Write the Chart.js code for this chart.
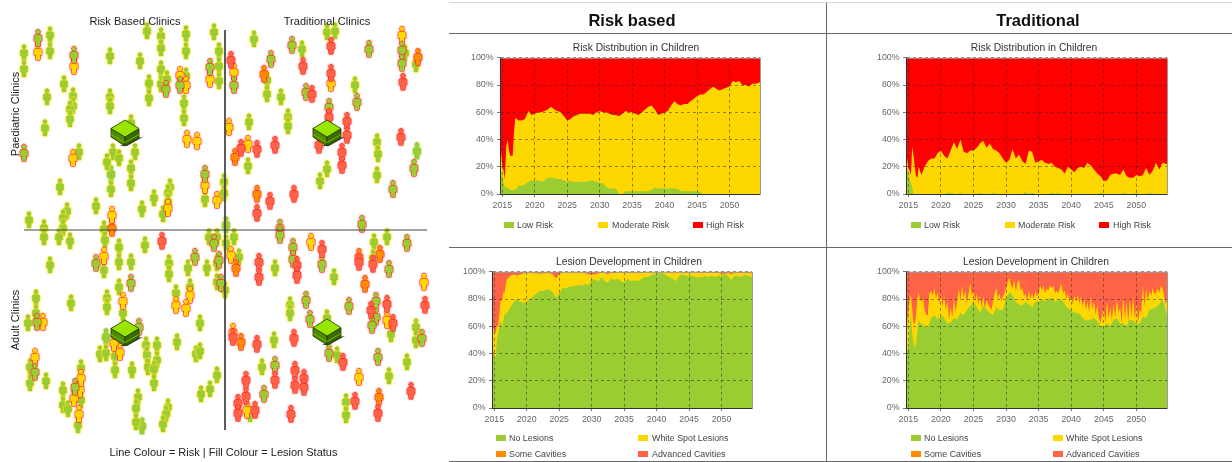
<!DOCTYPE html>
<html>
<head>
<meta charset="utf-8">
<title>Risk based vs traditional clinics</title>
<script src="https://cdn.jsdelivr.net/npm/chart.js@4/dist/chart.umd.min.js"></script>
<style>
  html, body { margin: 0; padding: 0; background: #fff; }
  #page { position: relative; width: 1232px; height: 462px; overflow: hidden; filter: blur(0.45px);
          font-family: "Liberation Sans", Arial, sans-serif; }
  #page canvas { position: absolute; }
  .txt { position: absolute; white-space: nowrap; transform: translate(-50%, -50%); color: #222; font-size: 11px; }
  .rot { transform: translate(-50%, -50%) rotate(-90deg); }
  .head { font-size: 16.5px; font-weight: bold; color: #111; }
  .sub { font-size: 10.3px; color: #333; }
  .leg { position: absolute; font-size: 8.9px; color: #444; white-space: nowrap; transform: translateY(-50%); }
  .sw { position: absolute; height: 6px; width: 10px; transform: translateY(-50%); }
  .rule { position: absolute; background: #666; }
</style>
</head>
<body>
<div id="page"></div>
<script>
/* ================= DATA ================= */
// sample years shared by the area charts
const years = [2014.8, 2015, 2015.2, 2015.4, 2015.6, 2015.8, 2016, 2016.2, 2016.4, 2016.6, 2016.8, 2017,
  2017.5, 2018, 2018.5, 2019, 2019.5, 2020,
  2020.5, 2021, 2021.5, 2022, 2022.5, 2023, 2023.5, 2024, 2024.5, 2025,
  2025.5, 2026, 2026.5, 2027, 2027.5, 2028, 2028.5, 2029, 2029.5, 2030,
  2030.5, 2031, 2031.5, 2032, 2032.5, 2033, 2033.5, 2034, 2034.5, 2035,
  2035.5, 2036, 2036.5, 2037, 2037.5, 2038, 2038.5, 2039, 2039.5, 2040,
  2040.5, 2041, 2041.5, 2042, 2042.5, 2043, 2043.5, 2044, 2044.5, 2045,
  2045.5, 2046, 2046.5, 2047, 2047.5, 2048, 2048.5, 2049, 2049.5, 2050,
  2050.5, 2051, 2051.5, 2052, 2052.5, 2053, 2053.5, 2054, 2054.7];
// the traditional white spot edge is spiky, so it is read every quarter year
const spikyYears = [2014.8, 2015, 2015.2, 2015.4, 2015.6, 2015.8, 2016, 2016.2, 2016.4, 2016.6, 2016.8, 2017,
  2017.25, 2017.5, 2017.75, 2018, 2018.25, 2018.5, 2018.75, 2019, 2019.25, 2019.5, 2019.75, 2020,
  2020.25, 2020.5, 2020.75, 2021, 2021.25, 2021.5, 2021.75, 2022, 2022.25, 2022.5, 2022.75, 2023,
  2023.25, 2023.5, 2023.75, 2024, 2024.25, 2024.5, 2024.75, 2025, 2025.25, 2025.5, 2025.75, 2026,
  2026.25, 2026.5, 2026.75, 2027, 2027.25, 2027.5, 2027.75, 2028, 2028.25, 2028.5, 2028.75, 2029,
  2029.25, 2029.5, 2029.75, 2030, 2030.25, 2030.5, 2030.75, 2031, 2031.25, 2031.5, 2031.75, 2032,
  2032.25, 2032.5, 2032.75, 2033, 2033.25, 2033.5, 2033.75, 2034, 2034.25, 2034.5, 2034.75, 2035,
  2035.25, 2035.5, 2035.75, 2036, 2036.25, 2036.5, 2036.75, 2037, 2037.25, 2037.5, 2037.75, 2038,
  2038.25, 2038.5, 2038.75, 2039, 2039.25, 2039.5, 2039.75, 2040, 2040.25, 2040.5, 2040.75, 2041,
  2041.25, 2041.5, 2041.75, 2042, 2042.25, 2042.5, 2042.75, 2043, 2043.25, 2043.5, 2043.75, 2044,
  2044.25, 2044.5, 2044.75, 2045, 2045.25, 2045.5, 2045.75, 2046, 2046.25, 2046.5, 2046.75, 2047,
  2047.25, 2047.5, 2047.75, 2048, 2048.25, 2048.5, 2048.75, 2049, 2049.25, 2049.5, 2049.75, 2050,
  2050.25, 2050.5, 2050.75, 2051, 2051.25, 2051.5, 2051.75, 2052, 2052.25, 2052.5, 2052.75, 2053,
  2053.25, 2053.5, 2053.75, 2054, 2054.25, 2054.5, 2054.7];
const yearTicks = [2015, 2020, 2025, 2030, 2035, 2040, 2045, 2050];
const percentTicks = [0, 20, 40, 60, 80, 100];
const allHundred = years.map(() => 100);

// upper edge of each band, in percent
const rbLowTop = [18, 13, 8, 5, 5, 4.5, 4, 3, 3, 3, 3, 3,
  6, 6, 7, 9, 10, 10,
  10, 9, 10, 12, 12, 12, 11, 11, 10, 9,
  10, 9, 9, 9, 9, 9, 10, 10, 9, 8,
  8, 5, 4, 4, 4, 0, 0, 2, 2, 2,
  2, 2, 2, 2, 2, 3, 5, 4, 4, 4,
  4, 4, 4, 4, 2, 2, 2, 2, 2, 2,
  1.5, 0, 0, 0, 0, 0, 0, 0, 0, 0,
  0, 0, 0, 0, 0, 0, 0, 0, 0];
const rbModerateTop = [32, 21, 17, 11, 34, 40, 33, 28, 28, 28, 45, 56,
  54, 54, 55, 61, 58, 59,
  60, 60, 61, 62, 64, 62, 61, 60, 57, 54,
  55, 57, 58, 59, 59, 59, 59, 58, 60, 61,
  60, 60, 59, 58, 58, 57, 59, 61, 60, 60,
  59, 58, 60, 62, 64, 65, 62, 58, 59, 60,
  61, 65, 68, 66, 65, 66, 66, 68, 70, 72,
  73, 73, 75, 77, 79, 77, 76, 77, 78, 79,
  83, 82, 83, 80, 80, 79, 81, 81, 82];
const trLowTop = [19, 15, 11, 8, 5, 0, 0, 0, 0, 0, 0, 0,
  0, 0, 0, 0, 0, 0,
  0, 1, 1, 0, 0, 1, 0, 0, 0, 0,
  0, 1, 0, 0, 0, 1, 0, 0, 0, 0,
  0, 0, 0, 0, 0, 1.5, 0, 1, 0, 0,
  0, 0, 0, 1, 0, 1, 0, 0, 0, 0,
  0, 0, 0, 0, 0, 0, 0, 0, 1, 0,
  0, 0, 0, 0, 0, 1, 0, 0, 0, 1,
  0, 0, 0, 1, 0, 0, 0, 0, 0];
const trModerateTop = [26, 20, 17, 14, 35, 28, 20, 13, 12, 20, 17, 14,
  20, 24, 26, 26, 30, 32,
  28, 26, 32, 38, 33, 40, 31, 30, 32, 32,
  34, 37, 39, 34, 37, 33, 32, 30, 26, 23,
  25, 33, 26, 29, 24, 22, 32, 31, 23, 24,
  25, 23, 22, 23, 20, 19, 18, 15, 20, 18,
  16, 19, 20, 19, 23, 21, 18, 15, 13, 9.5,
  10, 14, 15, 15, 14, 18, 13, 12, 12, 14,
  13, 14, 19, 14, 17, 23, 18, 23, 22];

const rbNoLesionTop = [45, 38, 36, 50, 55, 62, 64, 58, 64, 70, 68, 70,
  74, 78, 80, 78, 77, 78,
  80, 82, 84, 86, 86, 87, 87, 85, 81, 84,
  88, 88, 89, 89, 90, 90, 90, 91, 90, 95,
  94, 93, 96, 93, 92, 95, 94, 95, 93, 92,
  95, 93, 94, 93, 94, 96, 96, 97, 98, 99,
  99, 99, 97, 96, 95, 93, 97, 98, 97, 97,
  97, 96, 96, 96, 97, 96, 97, 96, 97, 97,
  98, 97, 94, 97, 97, 96, 98, 97, 96];
const rbWhiteSpotTop = [60, 55, 55, 60, 60, 70, 80, 78, 85, 84, 92, 95,
  97, 98, 97, 98, 99, 99,
  99.5, 99, 99, 98.5, 99, 99, 99, 98, 95, 98,
  99.5, 99.5, 99.5, 99.5, 99.5, 99.5, 99.5, 99, 98, 98,
  98, 99, 99.5, 99.5, 98, 99.5, 99, 99.5, 99.5, 99.5,
  99.5, 99, 99.5, 99.5, 99, 99.5, 99.5, 99.5, 100, 100,
  100, 100, 100, 99.5, 100, 99.5, 100, 99.5, 99.5, 99.5,
  99.5, 99.5, 99.5, 99, 99.5, 99, 99.5, 99, 99.5, 99,
  98, 99.5, 98, 99.5, 99.5, 99, 99.5, 99, 99];
const trNoLesionTop = [42, 44, 60, 68, 55, 48, 44, 48, 56, 65, 62, 62,
  60, 59, 66, 68, 65, 68,
  66, 62, 63, 66, 65, 70, 68, 72, 75, 78,
  74, 70, 75, 72, 70, 68, 74, 72, 72, 80,
  85, 83, 78, 76, 75, 78, 76, 74, 78, 78,
  80, 78, 80, 81, 78, 79, 80, 76, 73, 72,
  70, 70, 68, 65, 64, 65, 66, 64, 60, 60,
  62, 60, 65, 66, 62, 62, 60, 65, 64, 62,
  62, 67, 66, 72, 73, 74, 76, 80, 68];
const trWhiteSpotTop = [60, 70, 80, 83, 72, 62, 62, 68, 80, 85, 80, 78,
  80, 72, 68, 68, 84, 86, 82, 88, 80, 85, 76, 84,
  74, 82, 72, 78, 64, 74, 66, 80, 70, 78, 88, 78,
  90, 80, 86, 76, 84, 92, 82, 86, 78, 84, 76, 82,
  74, 82, 72, 80, 76, 74, 72, 78, 84, 88, 80, 84,
  78, 82, 84, 88, 92, 96, 90, 88, 94, 85, 92, 94,
  86, 88, 82, 84, 78, 86, 80, 84, 80, 86, 82, 84,
  90, 86, 90, 84, 88, 86, 90, 88, 90, 84, 86, 84,
  88, 91, 84, 86, 80, 84, 78, 82, 76, 83, 78, 83,
  76, 82, 74, 80, 72, 78, 70, 82, 72, 78, 68, 76,
  66, 62, 68, 72, 62, 78, 66, 74, 64, 76, 66, 80,
  70, 74, 62, 82, 64, 78, 62, 80, 66, 82, 64, 76,
  62, 72, 70, 90, 74, 88, 78, 86, 82, 88, 84, 84,
  88, 84, 90, 88, 82, 76, 80];
// the some-cavities band is too thin to read apart from white spot
const rbSomeCavitiesTop = rbWhiteSpotTop;
const trSomeCavitiesTop = trWhiteSpotTop;

// people on the clinic map (map units), grouped by outline risk / fill lesion state
const moderateNoLesion = [[50,35],[50,51],[24,53],[24,69],[147,31],[161,36],[161,48],[186,34],[186,51],[214,32],[219,51],[219,66],[219,81],
  [110,56],[140,61],[161,69],[161,84],[167,79],[186,76],[149,83],[149,98],[64,84],[47,97],[73,96],[110,97],[110,106],[73,106],[70,109],[70,119],
  [45,128],[184,103],[184,118],[79,152],[113,152],[119,158],[107,162],[135,152],[131,168],[131,183],[111,189],[60,187],[170,187],[168,193],[154,198],
  [168,202],[142,209],[96,206],[67,211],[63,218],[29,220],[44,228],[63,228],[104,229],[163,214],[205,199],[224,182],[224,193],[131,123],
  [254,39],[327,32],[335,31],[302,49],[267,80],[267,94],[281,97],[249,122],[288,117],[288,126],[248,166],[355,85],[377,142],[378,154],[377,175],
  [327,169],[320,181],[416,64],[405,53],
  [44,237],[59,237],[70,241],[105,240],[119,247],[119,262],[104,270],[131,262],[145,245],[50,265],[169,263],[169,274],[188,268],[207,268],[209,237],
  [217,237],[226,243],[217,263],[217,282],[225,290],[119,287],[107,298],[107,307],[71,303],[36,298],[36,313],[28,323],[123,313],[176,293],[190,287],
  [200,323],[177,342],[196,354],[200,351],[100,354],[106,353],[115,356],[115,370],[132,370],[146,345],[157,345],[147,355],[157,360],[148,367],[154,369],
  [154,383],[217,375],[210,389],[201,394],[81,368],[30,367],[30,383],[46,381],[63,390],[63,405],[68,409],[81,400],[138,397],[136,408],[136,422],[168,407],
  [166,414],[163,424],[78,425],
  [234,237],[374,242],[387,237],[239,257],[275,268],[334,277],[290,305],[290,313],[274,340],[262,367],[337,355],[407,362],[389,376],[346,402],[346,415],
  [250,414],[391,334],[416,340],[327,318],[416,327],[373,258]];
const lowNoLesion = [[111,174],[226,225],[417,151],[142,426],[106,337]];
const highNoLesion = [[38,38],[74,55],[210,67],[166,89],[180,85],[24,153],[205,174],
  [292,45],[271,59],[369,49],[402,50],[402,63],[234,85],[306,92],[329,107],[357,102],[414,168],[393,189],[362,224],[280,228],
  [96,263],[214,243],[195,257],[131,283],[37,322],[35,372],[75,387],[219,260],[139,327],[221,283],
  [280,235],[293,247],[293,259],[322,264],[407,243],[389,269],[306,300],[349,306],[376,301],[376,317],[372,325],[310,319],[422,338],[329,353],[378,357],
  [275,365],[264,394]];
const highWhiteSpot = [[38,52],[74,66],[210,79],[180,75],[186,85],[187,139],[197,141],[73,158],[205,185],[217,200],[112,215],[168,208],
  [402,35],[234,72],[248,144],[229,127],[331,83],
  [104,256],[123,301],[190,295],[176,305],[186,308],[43,322],[35,357],[80,389],[81,378],[79,414],[120,352],[114,343],[74,398],
  [311,242],[231,255],[424,282],[387,320],[359,377],[233,332],[247,410]];
const highSomeCavities = [[112,228],[264,74],[235,157],[257,194],[418,57],[236,268],[380,254],[359,257],[365,284],[241,342],[379,397]];
const highAdvanced = [[231,60],[303,66],[331,46],[331,73],[312,94],[347,121],[347,135],[401,137],[342,152],[342,165],[275,145],[257,149],[241,148],
  [294,194],[270,201],[257,213],[403,82],[329,117],[319,145],[162,241],
  [259,262],[259,277],[297,265],[297,275],[322,249],[359,262],[373,264],[425,305],[387,304],[393,323],[371,310],[294,338],[257,344],[343,362],[295,370],
  [295,385],[304,378],[304,387],[275,380],[246,380],[246,396],[238,403],[238,413],[255,410],[291,414],[355,401],[411,391],[378,413],[233,337]];
const clinics = [[128,134],[330,134],[128,334],[330,333]];
const verticalDivider = [[225,30],[225,430]];
const horizontalDivider = [[24,230],[427,230]];

/* ================= HELPERS ================= */
const GREEN = '#9acd32', GOLD = '#ffd700', ORANGE = '#ff8c00', TOMATO = '#ff6347', RED = '#ff0000';
const page = document.getElementById('page');

function addText(text, x, y, cls) {
  const el = document.createElement('div');
  el.className = cls;
  el.textContent = text;
  el.style.left = x + 'px';
  el.style.top = y + 'px';
  page.appendChild(el);
}
function addRule(x, y, w, h, color) {
  const el = document.createElement('div');
  el.className = 'rule';
  el.style.cssText = `left:${x}px;top:${y}px;width:${w}px;height:${h}px;` + (color ? `background:${color};` : '');
  page.appendChild(el);
}
function addLegend(label, color, swX, textX, y) {
  const sw = document.createElement('div');
  sw.className = 'sw';
  sw.style.cssText = `left:${swX}px;top:${y}px;background:${color};`;
  page.appendChild(sw);
  addText(label, textX, y, 'leg');
}
function newCanvas(x, y, w, h) {
  const c = document.createElement('canvas');
  c.width = w; c.height = h;
  c.style.cssText = `left:${x}px;top:${y}px;width:${w}px;height:${h}px;`;
  page.appendChild(c);
  return c;
}

// little person icon used as point style
function personIcon(line, fill, halo) {
  const c = document.createElement('canvas');
  c.width = 14; c.height = 22;
  const g = c.getContext('2d');
  const path = () => {
    g.beginPath();
    g.arc(7, 4.8, 2.2, 0, Math.PI * 2);
    g.moveTo(4.2, 7.6);
    g.lineTo(9.8, 7.6);
    g.lineTo(10.8, 9);
    g.lineTo(10.8, 14);
    g.lineTo(9.3, 14);
    g.lineTo(8.9, 19);
    g.lineTo(5.1, 19);
    g.lineTo(4.7, 14);
    g.lineTo(3.2, 14);
    g.lineTo(3.2, 9);
    g.closePath();
  };
  g.lineJoin = 'round';
  g.strokeStyle = halo; g.globalAlpha = 0.35; g.lineWidth = 3; path(); g.stroke();
  g.globalAlpha = 1;
  g.strokeStyle = line; g.lineWidth = 1; path(); g.stroke();
  g.fillStyle = fill; path(); g.fill();
  return c;
}

// isometric clinic block used as point style
function clinicIcon() {
  const c = document.createElement('canvas');
  c.width = 36; c.height = 30;
  const g = c.getContext('2d');
  const poly = (pts, fill, stroke) => {
    g.beginPath();
    pts.forEach((p, i) => i ? g.lineTo(p[0], p[1]) : g.moveTo(p[0], p[1]));
    g.closePath();
    g.fillStyle = fill; g.fill();
    if (stroke) { g.strokeStyle = stroke; g.lineWidth = 0.8; g.stroke(); }
  };
  poly([[26,19],[33,18],[17,27],[10,27]], '#4a4a4a');
  poly([[1,9],[15,18],[15,27],[1,18]], '#4f8a00', '#1f3300');
  poly([[15,18],[29,10],[29,19],[15,27]], '#3a6b00', '#1f3300');
  poly([[1,15],[15,23],[29,15],[29,16],[15,24],[1,16]], '#7ab800');
  poly([[15,1],[29,9.5],[15,18],[1,9.5]], '#99e600', '#1f3300');
  return c;
}

const toPoints = list => list.map(p => ({ x: p[0], y: p[1] }));
const agentSet = (list, icon, order) => ({
  data: toPoints(list), pointStyle: icon, pointRadius: 5, showLine: false, order
});
const lineSet = list => ({
  data: toPoints(list), showLine: true, borderColor: '#444', borderWidth: 1, pointRadius: 0, order: 1
});

/* ================= CHARTS ================= */
function drawMap() {
  new Chart(newCanvas(0, 0, 445, 462), {
    type: 'scatter',
    data: {
      datasets: [
        agentSet(clinics, clinicIcon(), 0),
        lineSet(verticalDivider),
        lineSet(horizontalDivider),
        agentSet(highAdvanced, personIcon(RED, TOMATO, '#ff8080'), 2),
        agentSet(highNoLesion, personIcon(RED, GREEN, '#ff8080'), 2),
        agentSet(highWhiteSpot, personIcon(RED, GOLD, '#ff8080'), 3),
        agentSet(highSomeCavities, personIcon(RED, ORANGE, '#ff8080'), 3),
        agentSet(moderateNoLesion, personIcon(GOLD, GREEN, '#ffee66'), 4),
        agentSet(lowNoLesion, personIcon(GREEN, GREEN, '#cce680'), 4)
      ]
    },
    options: {
      responsive: false,
      animation: false,
      layout: { padding: 0, autoPadding: false },
      plugins: { legend: { display: false }, tooltip: { enabled: false } },
      scales: {
        x: { display: false, min: 0, max: 445 },
        y: { display: false, min: 0, max: 462, reverse: true }
      }
    }
  });
}

// dark left/bottom, grey top/right like the source plot frame
const plotFrame = {
  id: 'plotFrame',
  afterDraw(chart) {
    const { ctx, chartArea: a } = chart;
    ctx.save();
    ctx.lineWidth = 1;
    ctx.strokeStyle = '#9a9a9a';
    ctx.beginPath();
    ctx.moveTo(a.left, a.top + 0.5); ctx.lineTo(a.right + 0.5, a.top + 0.5); ctx.lineTo(a.right + 0.5, a.bottom);
    ctx.stroke();
    ctx.strokeStyle = '#333';
    ctx.beginPath();
    ctx.moveTo(a.left - 0.5, a.top); ctx.lineTo(a.left - 0.5, a.bottom + 0.5); ctx.lineTo(a.right + 0.5, a.bottom + 0.5);
    ctx.stroke();
    ctx.restore();
  }
};

function drawArea(plotX, plotY, plotW, plotH, bands) {
  const padL = 40, padR = 6, padT = 8, padB = 22;
  const canvas = newCanvas(plotX - padL, plotY - padT, plotW + padL + padR, plotH + padT + padB);
  new Chart(canvas, {
    type: 'line',
    data: {
      datasets: bands.map((b, i) => ({
        label: b.label,
        data: b.top.map((v, k) => ({ x: (b.xs || years)[k], y: v })),
        backgroundColor: b.color,
        borderWidth: 0,
        pointRadius: 0,
        tension: 0,
        fill: 'origin',
        order: i + 1
      }))
    },
    options: {
      responsive: false,
      animation: false,
      parsing: false,
      layout: { padding: { left: 0, right: padR, top: padT, bottom: 0 } },
      plugins: { legend: { display: false }, tooltip: { enabled: false } },
      scales: {
        x: {
          type: 'linear', min: 2014.8, max: 2054.7,
          afterBuildTicks: s => { s.ticks = yearTicks.map(v => ({ value: v })); },
          afterFit: s => { s.height = padB; },
          border: { display: false, dash: [3, 3] },
          grid: { color: 'rgba(40,40,40,0.5)', z: 1, tickLength: 3, tickColor: '#777', tickBorderDash: [] },
          ticks: { color: '#666', font: { size: 8.8, family: '"Liberation Sans", Arial, sans-serif' }, padding: 3, maxRotation: 0, autoSkip: false, callback: v => String(v) }
        },
        y: {
          min: 0, max: 100,
          afterBuildTicks: s => { s.ticks = percentTicks.map(v => ({ value: v })); },
          afterFit: s => { s.width = padL; },
          border: { display: false, dash: [3, 3] },
          grid: { color: 'rgba(40,40,40,0.5)', z: 1, tickLength: 4, tickColor: '#777', tickBorderDash: [] },
          ticks: { color: '#666', font: { size: 8.8, family: '"Liberation Sans", Arial, sans-serif' }, padding: 3.5, autoSkip: false, callback: v => v + '%' }
        }
      }
    },
    plugins: [plotFrame]
  });
}

/* ================= LAYOUT ================= */
function initPage() {
  drawMap();
  addText('Risk Based Clinics', 135, 21, 'txt');
  addText('Traditional Clinics', 327, 21, 'txt');
  addText('Paediatric Clinics', 15, 114, 'txt rot');
  addText('Adult Clinics', 15, 320, 'txt rot');
  addText('Line Colour = Risk | Fill Colour = Lesion Status', 223.5, 452, 'txt');

  addRule(449, 2, 783, 1, '#d8d8d8');
  addRule(449, 33, 783, 1);
  addRule(449, 247, 783, 1);
  addRule(449, 461, 783, 1);
  addRule(826, 3, 1, 459);
  addText('Risk based', 632, 20, 'txt head');
  addText('Traditional', 1038, 20, 'txt head');

  drawArea(501, 57, 259, 137, [
    { label: 'Low Risk', top: rbLowTop, color: GREEN },
    { label: 'Moderate Risk', top: rbModerateTop, color: GOLD },
    { label: 'High Risk', top: allHundred, color: RED }
  ]);
  drawArea(907, 57, 260, 137, [
    { label: 'Low Risk', top: trLowTop, color: GREEN },
    { label: 'Moderate Risk', top: trModerateTop, color: GOLD },
    { label: 'High Risk', top: allHundred, color: RED }
  ]);
  drawArea(493, 271, 259, 137, [
    { label: 'No Lesions', top: rbNoLesionTop, color: GREEN },
    { label: 'White Spot Lesions', top: rbWhiteSpotTop, color: GOLD },
    { label: 'Some Cavities', top: rbSomeCavitiesTop, color: ORANGE },
    { label: 'Advanced Cavities', top: allHundred, color: TOMATO }
  ]);
  drawArea(907, 271, 260, 137, [
    { label: 'No Lesions', top: trNoLesionTop, color: GREEN },
    { label: 'White Spot Lesions', top: trWhiteSpotTop, xs: spikyYears, color: GOLD },
    { label: 'Some Cavities', top: trSomeCavitiesTop, xs: spikyYears, color: ORANGE },
    { label: 'Advanced Cavities', top: allHundred, color: TOMATO }
  ]);

  addText('Risk Distribution in Children', 636, 47, 'txt sub');
  addText('Risk Distribution in Children', 1034, 47, 'txt sub');
  addText('Lesion Development in Children', 629, 261, 'txt sub');
  addText('Lesion Development in Children', 1036, 261, 'txt sub');

  addLegend('Low Risk', GREEN, 504, 517, 224.5);
  addLegend('Moderate Risk', GOLD, 598, 612, 224.5);
  addLegend('High Risk', RED, 693, 706, 224.5);
  addLegend('Low Risk', GREEN, 911, 924, 224.5);
  addLegend('Moderate Risk', GOLD, 1005, 1018, 224.5);
  addLegend('High Risk', RED, 1099, 1113, 224.5);

  addLegend('No Lesions', GREEN, 496, 509, 438);
  addLegend('White Spot Lesions', GOLD, 638, 652, 438);
  addLegend('Some Cavities', ORANGE, 496, 509, 454);
  addLegend('Advanced Cavities', TOMATO, 638, 652, 454);
  addLegend('No Lesions', GREEN, 911, 924, 438);
  addLegend('White Spot Lesions', GOLD, 1053, 1066, 438);
  addLegend('Some Cavities', ORANGE, 911, 924, 454);
  addLegend('Advanced Cavities', TOMATO, 1053, 1066, 454);
}

initPage();
</script>
</body>
</html>
